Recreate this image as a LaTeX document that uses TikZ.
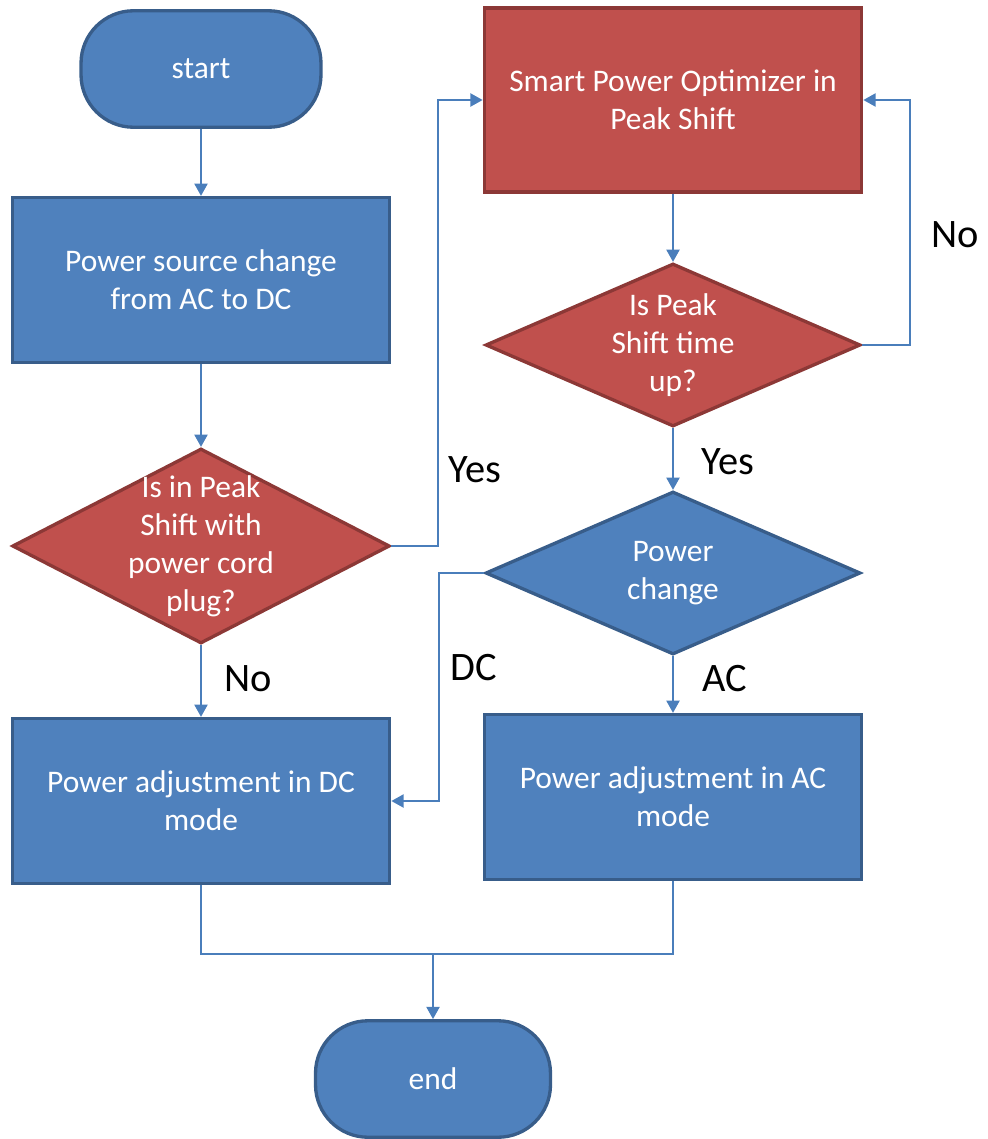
\documentclass[tikz,border=0pt]{standalone}
\usepackage{fontspec}
\setmainfont{Carlito}
\usetikzlibrary{shapes.geometric,arrows.meta}
\definecolor{boxblue}{HTML}{4F81BD}
\definecolor{edgeblue}{HTML}{385D8A}
\definecolor{boxred}{HTML}{C0504D}
\definecolor{edgered}{HTML}{8C3836}
\definecolor{linkblue}{HTML}{4A7EBB}
\begin{document}
\begin{tikzpicture}[x=0.02cm, y=-0.02cm,
  every node/.style={font=\fontsize{17.9}{21.6}\selectfont, text=white, align=center},
  term/.style={draw=edgeblue, fill=boxblue, line width=1.9pt, rectangle, rounded corners=1.05cm, minimum width=4.8cm, minimum height=2.33cm},
  bluebox/.style={draw=edgeblue, fill=boxblue, line width=1.9pt, rectangle, minimum width=7.55cm, minimum height=3.3cm},
  redbox/.style={draw=edgered, fill=boxred, line width=1.9pt, rectangle, minimum width=7.55cm, minimum height=3.68cm},
  reddia/.style={draw=edgered, fill=boxred, line width=1.9pt, diamond, inner sep=0pt},
  bluedia/.style={draw=edgeblue, fill=boxblue, line width=1.9pt, diamond, inner sep=0pt},
  conn/.style={draw=linkblue, line width=1.1pt},
  arr/.style={conn, -{Triangle[length=7pt,width=7.5pt]}},
  lbl/.style={font=\fontsize{23}{27}\selectfont, text=black}]
\useasboundingbox (0,0) rectangle (987,1139);
% left column
\node[term] (start) at (201,69) {start};
\node[bluebox] (srcchg) at (201,280) {Power source change\\from AC to DC};
\node[reddia, minimum width=7.55cm, minimum height=3.9cm,
  label=center:{Is in Peak\\Shift with\\power cord\\plug?}] (qplug) at (201,546) {};
\node[bluebox] (dcmode) at (201,801) {Power adjustment in DC\\mode};
% right column
\node[redbox] (optim) at (673,100) {Smart Power Optimizer in\\Peak Shift};
\node[reddia, minimum width=7.5cm, minimum height=3.26cm,
  label=center:{Is Peak\\Shift time\\up?}] (qtime) at (673,345) {};
\node[bluedia, minimum width=7.5cm, minimum height=3.26cm,
  label=center:{Power\\change}] (pchg) at (673,573) {};
\node[bluebox] (acmode) at (673,797) {Power adjustment in AC\\mode};
\node[term, minimum width=4.7cm] (end) at (433,1079) {end};
\coordinate (join) at (433,954);
% connectors
\draw[arr] (start.south) -- (srcchg.north);
\draw[arr] (srcchg.south) -- (qplug.north);
\draw[arr] (qplug.east) -- ++(47,0) |- (optim.west);
\draw[arr] (qplug.south) -- (dcmode.north);
\draw[arr] (optim.south) -- (qtime.north);
\draw[arr] (qtime.east) -- ++(48,0) |- (optim.east);
\draw[arr] (qtime.south) -- (pchg.north);
\draw[arr] (pchg.west) -- ++(-45,0) |- (dcmode.east);
\draw[arr] (pchg.south) -- (acmode.north);
\draw[conn] (dcmode.south) |- (join) -| (acmode.south);
\draw[arr] (join) -- (end.north);
% branch labels
\node[lbl] (yesplug) at (475,470) {Yes};
\node[lbl] (noplug) at (248,679) {No};
\node[lbl] (notime) at (955,235) {No};
\node[lbl] (yestime) at (728,462) {Yes};
\node[lbl] (dclbl) at (474,668) {DC};
\node[lbl] (aclbl) at (725,679) {AC};
\end{tikzpicture}
\end{document}
